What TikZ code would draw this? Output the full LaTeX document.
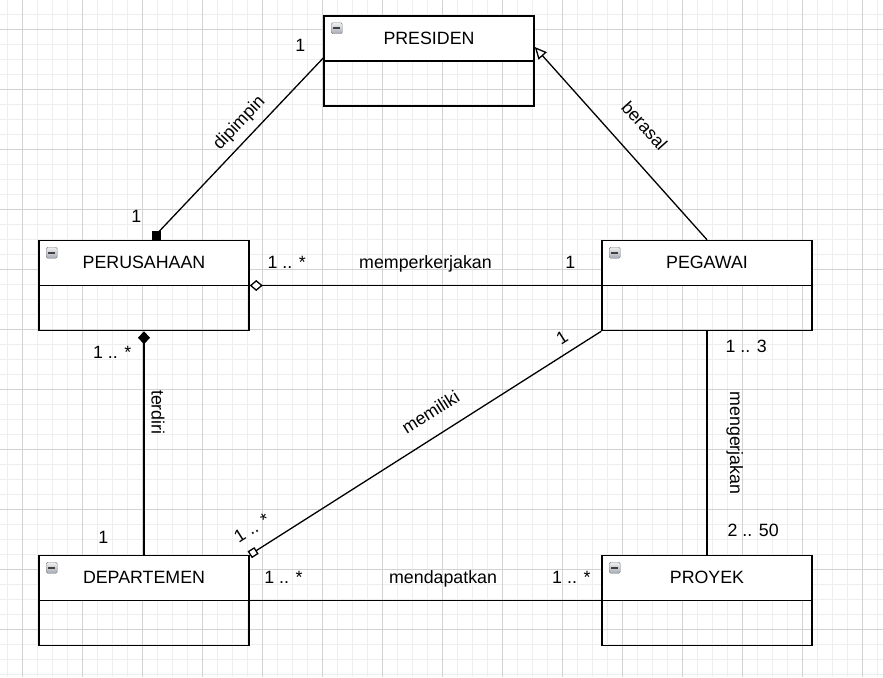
\documentclass[tikz,border=0pt]{standalone}
\usepackage{fontspec}
\setmainfont{Liberation Sans}
\usepackage{tikz}
\usetikzlibrary{arrows.meta}
\usetikzlibrary{calc}
\definecolor{gitter}{RGB}{210,210,210}
\definecolor{gitterfein}{RGB}{238,238,238}
\definecolor{knopf}{RGB}{165,170,180}
\definecolor{knopfrand}{RGB}{125,128,135}
\newcommand{\schrift}{\fontsize{17.8}{21}\selectfont}

\begin{document}
\begin{tikzpicture}[x=1pt, y=-1pt, font=\schrift,
	klasse/.style={draw, line width=1.5pt, minimum width=210pt, minimum height=90pt, inner sep=0pt},
	knopf/.style={draw=knopfrand, rounded corners=1.5pt, top color=gray!12, bottom color=knopf, minimum size=11pt, inner sep=0pt,
		path picture={\draw[line width=1.6pt, black!75] ($(path picture bounding box.center)+(-3.5,0)$) -- ($(path picture bounding box.center)+(3.5,0)$);}},
	linie/.style={line width=1.3pt},
	beschr/.style={inner sep=0pt, text height=12.5pt, text depth=3.5pt}]

	\useasboundingbox (0,0) rectangle (883,677);

	% raster
	\foreach \x in {7,22,...,877} \draw[gitterfein] (\x,0) -- (\x,677);
	\foreach \y in {14,29,...,674} \draw[gitterfein] (0,\y) -- (883,\y);
	\foreach \x in {22,82,...,862} \draw[gitter] (\x,0) -- (\x,677);
	\foreach \y in {29,89,...,629} \draw[gitter] (0,\y) -- (883,\y);

	% klassen
	\foreach \n/\x/\y/\t in {pres/429/61/PRESIDEN, perus/144/285.5/PERUSAHAAN, peg/707/285.5/PEGAWAI, dept/144/600.5/DEPARTEMEN, proj/707/600.5/PROYEK}{
		\fill[white] (\x-105,\y-45) rectangle (\x+105,\y);
		\node[klasse] (\n) at (\x,\y) {};
		\draw[line width=1.5pt] (\n.west) -- (\n.east);
		\node (\n-name) at ($(\n.north)!.5!(\n.center)$) {\t};
		\node[knopf] (\n-knopf) at ($(\n.north west)+(13.5,13)$) {};
	}

	\node[fill, minimum size=9pt, inner sep=0pt, anchor=south] (perus-kopf) at ($(perus.north)+(12,0)$) {};
	\draw[linie] ($(pres.west)+(0,-3)$) -- ($(perus-kopf.north east)+(-1.5,1)$)
		node[beschr, at start, shift={(-23,-11)}] (dip-a) {1}
		node[beschr, pos=.44, sloped, above=7pt] (dip) {dipimpin}
		node[beschr, at end, shift={(-23,-13)}] (dip-b) {1};

	\draw[linie, -{Triangle[length=12pt,width=11pt,fill=white]}] (peg.north) -- ($(pres.east)+(0,-14)$)
		node[beschr, pos=.49, sloped, above=19pt] (ber) {berasal};

	\draw[linie, {Diamond[length=13pt,width=11pt,fill=white]}-] (perus.east) -- (peg.west)
		node[beschr, pos=.105, above=12.5pt] (mem-a) {1 .. *}
		node[beschr, midway, above=12.5pt] (mem) {memperkerjakan}
		node[beschr, pos=.912, above=12.5pt] (mem-b) {1};

	\draw[linie, {Diamond[length=13pt,width=12pt]}-] (perus.south) -- (dept.north)
		node[beschr, pos=.10, left=12pt] (ter-a) {1 .. *}
		node[beschr, pos=.363, sloped, above=3.5pt] (ter) {terdiri}
		node[beschr, pos=.929, left=35pt] (ter-b) {1};

	\draw[linie, -{Square[length=8pt,width=8pt,fill=white]}] (peg.south west) -- (dept.north east)
		node[beschr, pos=.088, sloped, above=5pt] (mil-a) {1}
		node[beschr, pos=.45, sloped, above=13pt] (mil) {memiliki}
		node[beschr, pos=.962, sloped, above=11pt] (mil-b) {1 .. *};

	\draw[linie] (peg.south) -- (proj.north)
		node[beschr, pos=.075, right=18pt] (ker-a) {1 .. 3}
		node[beschr, midway, sloped, above=19pt] (ker) {mengerjakan}
		node[beschr, pos=.898, right=20pt] (ker-b) {2 .. 50};

	\draw[linie] (dept.east) -- (proj.west)
		node[beschr, pos=.096, above=13pt] (dap-a) {1 .. *}
		node[beschr, pos=.55, above=13pt] (dap) {mendapatkan}
		node[beschr, pos=.915, above=13pt] (dap-b) {1 .. *};

\end{tikzpicture}
\end{document}
